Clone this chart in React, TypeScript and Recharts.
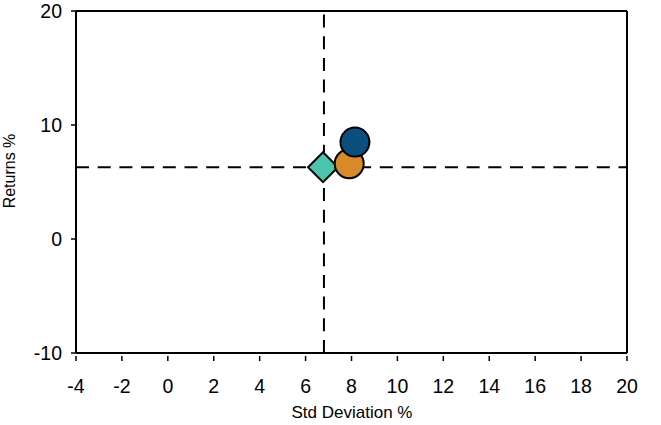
import React from "react";
import {
  ScatterChart,
  Scatter,
  XAxis,
  YAxis,
  ReferenceLine,
  Label,
} from "recharts";

// portfolios: std deviation vs returns
const benchmark = [{ sd: 6.76, ret: 6.3 }];
const fundA = [{ sd: 7.9, ret: 6.6 }];
const fundB = [{ sd: 8.15, ret: 8.5 }];

const xTicks = [-4, -2, 0, 2, 4, 6, 8, 10, 12, 14, 16, 18, 20];
const yTicks = [-10, 0, 10, 20];
const refX = 6.8;
const refY = 6.3;

const FONT = "'Liberation Sans', Arial, sans-serif";

const Circle = (color: string) => (props: any) => {
  const { cx, cy } = props;
  return <circle cx={cx} cy={cy} r={14.5} fill={color} stroke="#000" strokeWidth={2} />;
};

const Diamond = (props: any) => {
  const { cx, cy } = props;
  const s = 15;
  return (
    <polygon
      points={`${cx},${cy - s} ${cx + s},${cy} ${cx},${cy + s} ${cx - s},${cy}`}
      fill="#4dc4ad"
      stroke="#000"
      strokeWidth={2}
    />
  );
};

const XTick = (props: any) => {
  const { x, y, payload } = props;
  return (
    <g>
      <line x1={x} x2={x} y1={y - 5} y2={y} stroke="#000" strokeWidth={1.5} />
      <text x={x} y={y + 32} textAnchor="middle" fontSize={19.5} fill="#000" fontFamily={FONT}>
        {payload.value}
      </text>
    </g>
  );
};

const YLabel = () => (
  <text
    x={15}
    y={171}
    transform="rotate(-90 15 171)"
    textAnchor="middle"
    fontSize={16}
    fill="#000"
    fontFamily={FONT}
  >
    Returns %
  </text>
);

const XLabel = () => (
  <text x={352} y={418} textAnchor="middle" fontSize={17} fill="#000" fontFamily={FONT}>
    Std Deviation %
  </text>
);

export default function App() {
  return (
    <div style={{ position: "absolute", left: 0, top: 0 }}>
      <ScatterChart
        width={661}
        height={425}
        margin={{ top: 11, right: 34, bottom: 0, left: 0 }}
        style={{ fontFamily: FONT }}
      >
        <XAxis
          type="number"
          dataKey="sd"
          domain={[-4, 20]}
          ticks={xTicks}
          height={72}
          axisLine={{ stroke: "#000", strokeWidth: 2 }}
          tickLine={false}
          tick={<XTick />}
          allowDataOverflow
        >
          <Label content={<XLabel />} />
        </XAxis>
        <YAxis
          type="number"
          dataKey="ret"
          domain={[-10, 20]}
          ticks={yTicks}
          width={76}
          axisLine={{ stroke: "#000", strokeWidth: 2 }}
          tickLine={{ stroke: "#000", strokeWidth: 1.5 }}
          tickSize={5}
          tickMargin={9}
          tick={{ fontSize: 19.5, fill: "#000", fontFamily: FONT }}
          allowDataOverflow
        >
          <Label content={<YLabel />} />
        </YAxis>
        <ReferenceLine y={20} stroke="#000" strokeWidth={2} />
        <ReferenceLine x={20} stroke="#000" strokeWidth={2} />
        <ReferenceLine x={refX} stroke="#000" strokeWidth={2} strokeDasharray="13 8.7" />
        <ReferenceLine y={refY} stroke="#000" strokeWidth={2} strokeDasharray="13 8.7" />
        <Scatter data={benchmark} shape={Diamond} isAnimationActive={false} />
        <Scatter data={fundA} shape={Circle("#d68a2a")} isAnimationActive={false} />
        <Scatter data={fundB} shape={Circle("#0a4f7e")} isAnimationActive={false} />
      </ScatterChart>
    </div>
  );
}
